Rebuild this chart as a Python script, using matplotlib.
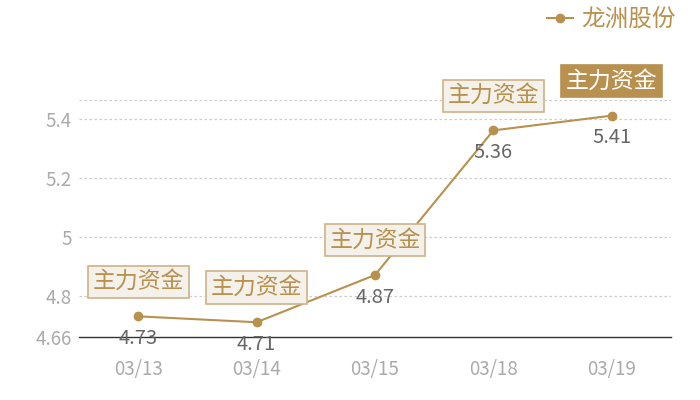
import matplotlib
matplotlib.use('Agg')
import matplotlib.pyplot as plt
from matplotlib.lines import Line2D

plt.rcParams['font.family'] = ['Noto Sans CJK SC', 'DejaVu Sans']

# data
dates = ['03/13', '03/14', '03/15', '03/18', '03/19']
prices = [4.73, 4.71, 4.87, 5.36, 5.41]
tag_text = '主力资金'
series_name = '龙洲股份'
y_ticks = [4.66, 4.8, 5, 5.2, 5.4]
y_tick_labels = ['4.66', '4.8', '5', '5.2', '5.4']
y_min, y_max = 4.66, 5.463

gold = '#b8914f'
tag_fill = '#f4f0ea'
tag_edge = '#cfb287'

fig = plt.figure(figsize=(7, 4), dpi=100)
ax = fig.add_axes([79 / 700, 63 / 400, 592 / 700, 237 / 400])

x = list(range(len(dates)))
ax.plot(x, prices, color=gold, lw=1.5, marker='o', ms=6, zorder=3)

ax.set_xlim(-0.5, len(dates) - 0.5)
ax.set_ylim(y_min, y_max)
ax.set_xticks(x)
ax.set_xticklabels(dates)
ax.set_yticks(y_ticks)
ax.set_yticklabels(y_tick_labels)
ax.tick_params(axis='both', length=0, labelsize=13.5, colors='#aaaaaa')
ax.tick_params(axis='x', pad=16)
ax.tick_params(axis='y', pad=5)

# dotted grid lines incl. the top edge
for v in y_ticks[1:] + [y_max]:
    ax.axhline(v, color='#cccccc', lw=0.9, ls=(0, (2, 2)), zorder=1)

for s in ['top', 'right', 'left']:
    ax.spines[s].set_visible(False)
ax.spines['bottom'].set_color('#333333')
ax.spines['bottom'].set_linewidth(1.0)

# value labels and tag boxes
for i, v in enumerate(prices):
    ax.annotate(f'{v:.2f}', (i, v), xytext=(0, -16), textcoords='offset points',
                ha='center', va='center', fontsize=14.5, color='#666666', zorder=4)
    last = i == len(prices) - 1
    ax.annotate(tag_text, (i, v), xytext=(0, 25), textcoords='offset points',
                ha='center', va='center', fontsize=16.5,
                color='white' if last else gold,
                bbox=dict(boxstyle='square,pad=0.2',
                          fc=gold if last else tag_fill,
                          ec=gold if last else tag_edge, lw=1.2),
                zorder=5)

handle = Line2D([], [], color=gold, lw=1.5, marker='o', ms=6)
fig.legend([handle], [series_name], loc='upper right',
           bbox_to_anchor=(676 / 700, 1 - 8 / 400), frameon=False,
           fontsize=17, labelcolor=gold, handlelength=1.1, handletextpad=0.35,
           borderpad=0, borderaxespad=0)

fig.savefig('out.png', dpi=100)
